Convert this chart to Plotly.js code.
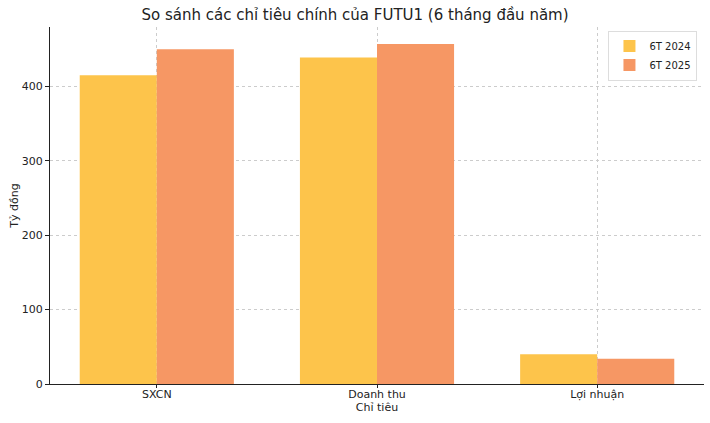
<!DOCTYPE html>
<html><head><meta charset="utf-8">
<script src="https://cdn.plot.ly/plotly-3.0.1.min.js"></script>
<style>html,body{margin:0;padding:0;background:#fff}#chart{width:710px;height:423px}</style>
</head><body><div id="chart"></div>
<script>
const categories = ["SXCN", "Doanh thu", "Lợi nhuận"];
const values2024 = [415, 439, 40];
const values2025 = [450, 457, 34];
const seriesNames = ["6T 2024", "6T 2025"];
const yTicks = [0, 100, 200, 300, 400];

const font = "DejaVu Sans, sans-serif";
const data = [
  {type: "bar", x: categories, y: values2024, name: seriesNames[0], marker: {color: "#FDC44B"}},
  {type: "bar", x: categories, y: values2025, name: seriesNames[1], marker: {color: "#F69764"}}
];
const layout = {
  width: 710, height: 423,
  margin: {l: 50, r: 6, t: 27, b: 39},
  paper_bgcolor: "#fff", plot_bgcolor: "#fff",
  font: {family: font, color: "#222", size: 11},
  title: {text: "So sánh các chỉ tiêu chính của FUTU1 (6 tháng đầu năm)", font: {family: font, size: 15, color: "#222"}, x: 0.5, xanchor: "center", y: 0.965, yanchor: "middle"},
  barmode: "group", bargap: 0.3, bargroupgap: 0,
  xaxis: {
    type: "category", range: [-0.485, 2.485],
    title: {text: "Chỉ tiêu", font: {size: 11}, standoff: 2},
    showgrid: true, gridcolor: "#cccccc", griddash: "dot", gridwidth: 1,
    showline: true, linecolor: "#222", linewidth: 1,
    ticks: "outside", ticklen: 3, tickcolor: "#222", tickfont: {size: 11},
    ticklabelstandoff: -3
  },
  yaxis: {
    range: [0, 480], tickvals: yTicks,
    title: {text: "Tỷ đồng", font: {size: 11}, standoff: 0},
    showgrid: true, gridcolor: "#cccccc", griddash: "dot", gridwidth: 1,
    showline: true, linecolor: "#222", linewidth: 1, zeroline: false,
    ticks: "outside", ticklen: 4, tickcolor: "#222", tickfont: {size: 11}
  },
  legend: {x: 0.99, y: 0.99, xanchor: "right", yanchor: "top", bgcolor: "#fff", bordercolor: "#ddd", borderwidth: 1, font: {size: 10}, traceorder: "normal", tracegroupgap: 0, itemwidth: 30},
  showlegend: true
};
Plotly.newPlot("chart", data, layout, {displayModeBar: false, staticPlot: true});
</script></body></html>
